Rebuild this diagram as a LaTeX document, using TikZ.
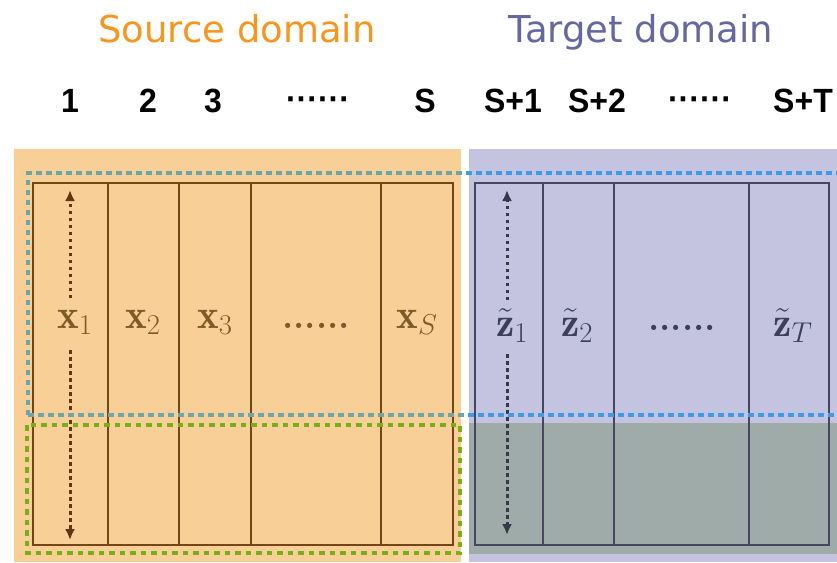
\RequirePackage{fix-cm}
\documentclass[tikz,border=0pt]{standalone}
\usepackage{fontspec}
\usepackage{amsmath}
\usetikzlibrary{arrows.meta}
\newfontfamily\titlefont{DejaVu Sans}
\newfontfamily\numfont{Liberation Sans}
\definecolor{srcbg}{HTML}{F9CF98}
\definecolor{tgtbg}{HTML}{C4C4E0}
\definecolor{overlap}{HTML}{9FABA9}
\definecolor{srcline}{HTML}{744616}
\definecolor{tgtline}{HTML}{46465E}
\definecolor{srctext}{HTML}{7E5A28}
\definecolor{tgttext}{HTML}{3C3E5A}
\definecolor{srctitle}{HTML}{F7961E}
\definecolor{tgttitle}{HTML}{6467A0}
\definecolor{dashteal}{HTML}{6BA6AA}
\definecolor{dashblue}{HTML}{3D9BEA}
\definecolor{dashgreen}{HTML}{78AE18}
\begin{document}
\begin{tikzpicture}[x=1pt,y=-1pt,
  title/.style={font=\titlefont\fontsize{37}{40}\selectfont, anchor=base, inner sep=0pt},
  num/.style={font=\numfont\bfseries\fontsize{32}{34}\selectfont, anchor=base, inner sep=0pt, yscale=1.05},
  cell/.style={font=\fontsize{41}{44}\selectfont, anchor=base, inner sep=3pt},
  celldots/.style={font=\bfseries\fontsize{36}{38}\selectfont, anchor=base, inner sep=0pt},
  gridS/.style={draw=srcline, line width=2.6pt},
  gridT/.style={draw=tgtline, line width=2.6pt},
  arrS/.style={draw=srcline!80!black, line width=3pt, dash pattern=on 3.5pt off 3.5pt, -{Latex[length=11pt,width=10pt]}},
  arrT/.style={draw=tgtline!80!black, line width=3pt, dash pattern=on 3.5pt off 3.5pt, -{Latex[length=11pt,width=10pt]}},
  bluedash/.style={line width=3.6pt, dash pattern=on 5.5pt off 4.5pt},
  greendash/.style={draw=dashgreen, line width=3.6pt, dash pattern=on 5.5pt off 5pt}
]
\useasboundingbox (0,0) rectangle (837,562);
\fill[white] (0,0) rectangle (837,562);
% backgrounds
\fill[srcbg] (14,149) rectangle (461,562);
\fill[tgtbg] (469,149) rectangle (837,562);
\fill[overlap] (469,423) rectangle (837,554);

% titles
\node[title, text=srctitle] (srctitle) at (237,42) {Source domain};
\node[title, text=tgttitle] (tgttitle) at (641,42) {Target domain};

% column numbers
\node[num] (n1) at (70,112) {1};
\node[num] (n2) at (148,112) {2};
\node[num] (n3) at (213,112) {3};
\node[num] (ndS) at (318,110) {······};
\node[num] (nS) at (425,112) {S};
\node[num] (nS1) at (513,112) {S+1};
\node[num] (nS2) at (597,112) {S+2};
\node[num] (ndT) at (700,110) {······};
\node[num] (nST) at (803,112) {S+T};

% source grid
\draw[gridS] (33,183) rectangle (453,545);
\foreach \c in {108,179,251,381} \draw[gridS] (\c,183) -- (\c,545);
% target grid
\draw[gridT] (475,183) rectangle (829,545);
\foreach \c in {543,614,749} \draw[gridT] (\c,183) -- (\c,545);

% cell labels
\node[cell, text=srctext] (x1) at (75,328) {$\mathbf{x}_1$};
\node[cell, text=srctext] (x2) at (143,328) {$\mathbf{x}_2$};
\node[cell, text=srctext] (x3) at (215,328) {$\mathbf{x}_3$};
\node[celldots, text=srctext] (xd) at (316,328) {......};
\node[cell, text=srctext] (xS) at (417,328) {$\mathbf{x}_S$};
\node[cell, text=tgttext] (z1) at (512,336) {$\tilde{\mathbf{z}}_1$};
\node[cell, text=tgttext] (z2) at (577,336) {$\tilde{\mathbf{z}}_2$};
\node[celldots, text=tgttext] (zd) at (682,330) {......};
\node[cell, text=tgttext] (zT) at (793,336) {$\tilde{\mathbf{z}}_T$};

% arrows
\coordinate (sa) at (70,298);
\coordinate (sb) at (70,350);
\coordinate (stop) at (70,190);
\coordinate (sbot) at (70,540);
\draw[arrS] (sa) -- (stop);
\draw[arrS] (sb) -- (sbot);
\coordinate (ta) at (507,300);
\coordinate (tb) at (507,354);
\coordinate (ttop) at (507,190);
\coordinate (tbot) at (507,535);
\draw[arrT] (ta) -- (ttop);
\draw[arrT] (tb) -- (tbot);

% blue dashed band
\coordinate (bl1) at (28,415);
\coordinate (bl2) at (28,173);
\coordinate (br1) at (850,173);
\coordinate (br2) at (850,415);
\begin{scope}
\clip (0,0) rectangle (465,562);
\draw[bluedash, draw=dashteal] (bl1) -- (bl2) -- (br1) (bl1) -- (br2);
\end{scope}
\begin{scope}
\clip (465,0) rectangle (837,562);
\draw[bluedash, draw=dashblue] (bl1) -- (bl2) -- (br1) (bl1) -- (br2);
\end{scope}

% green dashed box
\draw[greendash] (27,425) rectangle (460,553);
\end{tikzpicture}
\end{document}
